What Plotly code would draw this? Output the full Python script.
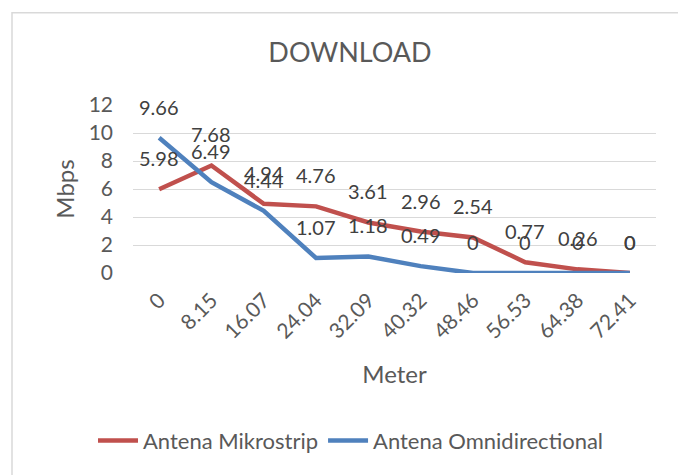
import plotly.graph_objects as go

# --- data ---
METER = ["0", "8.15", "16.07", "24.04", "32.09", "40.32", "48.46", "56.53", "64.38", "72.41"]
MIKROSTRIP = [5.98, 7.68, 4.94, 4.76, 3.61, 2.96, 2.54, 0.77, 0.26, 0]
OMNI = [9.66, 6.49, 4.44, 1.07, 1.18, 0.49, 0, 0, 0, 0]

RED = "#C0504D"
BLUE = "#4F81BD"
TEXT = "#595959"
LABEL = "#404040"
GRID = "#D9D9D9"
FONT = "Lato, Open Sans, sans-serif"

# page has an 8px body margin; positions below are read in page pixels
OFF = 8
W, H = 686, 475
L = 133 - OFF
T = 105 - OFF
R = W - (656 - OFF)
B = H - (272.7 - OFF)
PW, PH = W - L - R, H - T - B


def px_x(p):
    return (p - OFF - L) / PW


def px_y(p):
    return (H - B - (p - OFF)) / PH


fig = go.Figure()
for name, vals, color in [("Antena Mikrostrip", MIKROSTRIP, RED),
                          ("Antena Omnidirectional", OMNI, BLUE)]:
    fig.add_trace(go.Scatter(
        x=METER, y=vals, mode="lines", name=name,
        line=dict(color=color, width=4.5),
        hoverinfo="skip",
    ))

# data labels sit above each point, Excel style
for vals in (MIKROSTRIP, OMNI):
    for i, v in enumerate(vals):
        fig.add_annotation(
            x=i, y=v, text=f"{v:g}", showarrow=False,
            yshift=31, yanchor="middle",
            font=dict(family=FONT, size=20, color=LABEL),
        )

# chart frame
fig.add_shape(type="rect", xref="paper", yref="paper",
              x0=px_x(12), x1=px_x(684), y0=px_y(490), y1=px_y(13),
              line=dict(color="#D9D9D9", width=1.5), layer="below")

fig.update_layout(
    width=W, height=H,
    margin=dict(l=L, r=R, t=T, b=B, autoexpand=False),
    paper_bgcolor="white", plot_bgcolor="white",
    font=dict(family=FONT, color=TEXT, size=21),
    title=dict(text="DOWNLOAD", x=px_x(350), xref="paper", xanchor="center",
               y=1 - (53 - OFF) / H, yanchor="middle",
               font=dict(size=27, color=TEXT)),
    xaxis=dict(
        type="category", range=[-0.5, 9.5], tickangle=-45,
        showgrid=False, showline=False, ticks="", ticklabelstandoff=10,
        tickfont=dict(size=21, color=TEXT),
        title=dict(text="Meter", font=dict(size=24, color=TEXT), standoff=24),
    ),
    yaxis=dict(
        range=[0, 12], dtick=2, showgrid=True, gridcolor=GRID, gridwidth=1.3,
        zeroline=False, showline=False, ticks="", ticklabelstandoff=19,
        tickfont=dict(size=21, color=TEXT),
        title=dict(text="Mbps", font=dict(size=24, color=TEXT), standoff=7),
    ),
    showlegend=True,
    legend=dict(orientation="h", x=px_x(351), xanchor="center", y=px_y(440),
                yanchor="middle", font=dict(size=22, color=TEXT),
                itemwidth=40),
)

fig.write_html("out.html")
